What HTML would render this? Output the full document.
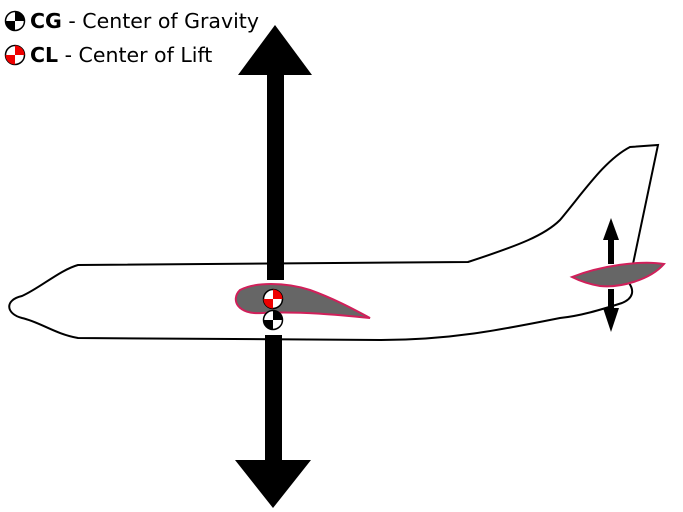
<!DOCTYPE html>
<html><head><meta charset="utf-8"><style>
html,body{margin:0;padding:0;background:#fff;width:683px;height:512px;overflow:hidden}
svg{display:block}
text{font-family:"DejaVu Sans","Liberation Sans",sans-serif;font-size:20.5px;fill:#000}
</style></head><body>
<svg width="683" height="512" viewBox="0 0 683 512" xmlns="http://www.w3.org/2000/svg">
<defs>
<g id="cg"><circle r="9.5" fill="#fff" stroke="#000" stroke-width="1.5"/><path d="M0,0 L0,-9.5 A9.5,9.5 0 0,1 9.5,0 Z M0,0 L0,9.5 A9.5,9.5 0 0,1 -9.5,0 Z" fill="#000"/></g>
<g id="cl"><circle r="9.5" fill="#fff" stroke="#000" stroke-width="1.5"/><path d="M0,0 L0,-9.5 A9.5,9.5 0 0,1 9.5,0 Z M0,0 L0,9.5 A9.5,9.5 0 0,1 -9.5,0 Z" fill="#e00"/></g>
</defs>
<use href="#cg" x="15" y="21"/>
<text x="30" y="28"><tspan font-weight="bold">CG</tspan> - Center of Gravity</text>
<use href="#cl" x="15" y="55"/>
<text x="30" y="62"><tspan font-weight="bold">CL</tspan> - Center of Lift</text>
<path d="M22,296 C40,288 60,270 78,265 L468,262 C520,245 545,235 560,220 C585,190 605,160 630,147 L658,145 L629,283 C634,290 634,298 622,303 C600,310 580,316 560,318 C500,330 450,340 380,340 L78,338 C55,334 40,322 22,318 C6,314 4,300 22,296 Z" fill="#fff" stroke="#000" stroke-width="2"/>
<path d="M572,277 C600,266 640,260 664,264 C650,280 620,288 600,286 C588,284 580,281 572,277 Z" fill="#666" stroke="#d0205a" stroke-width="2"/>
<rect x="608" y="236" width="6" height="28" fill="#000"/>
<polygon points="611,218 603,240 619,240" fill="#000"/>
<rect x="608" y="289" width="6" height="23" fill="#000"/>
<polygon points="611,332 603,308 619,308" fill="#000"/>
<rect x="267" y="72" width="17" height="208" fill="#000"/>
<polygon points="275,25 238,75 312,75" fill="#000"/>
<rect x="265" y="335" width="17" height="128" fill="#000"/>
<polygon points="273,508 235,460 311,460" fill="#000"/>
<path d="M240,290 C255,282 285,282 310,290 C335,299 355,310 370,318 C340,315 300,311 262,313 C238,315 230,300 240,290 Z" fill="#666" stroke="#d0205a" stroke-width="2"/>
<use href="#cl" x="273" y="299"/>
<use href="#cg" x="273" y="320"/>
</svg>
</body></html>
